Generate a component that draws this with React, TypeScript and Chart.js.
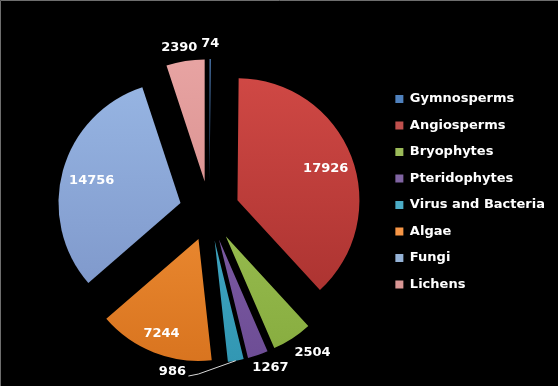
import React, { useEffect, useRef } from 'react';
import { Chart, registerables } from 'chart.js';

Chart.register(...registerables);

// ---- data ----
const categories = ['Gymnosperms', 'Angiosperms', 'Bryophytes', 'Pteridophytes', 'Virus and Bacteria', 'Algae', 'Fungi', 'Lichens'];
const speciesCounts = [74, 17926, 2504, 1267, 986, 7244, 14756, 2390];

// ---- styles ----
const baseColors = ['#4F81BD', '#C0504D', '#9BBB59', '#8064A2', '#4BACC6', '#F79646', '#95B3D7', '#D99694'];
const topColors = ['#5B8FD0', '#D44B47', '#A6CB5E', '#8A68B0', '#4DB3CE', '#FB9C40', '#9AB9E6', '#EAA7A6'];
const bottomColors = ['#2E5A8E', '#A32E2C', '#84A93C', '#6A4A92', '#2F94B0', '#D5701C', '#7890C4', '#CF8381'];

const EXPLODE = 30;
const PIE_RADIUS = 122;
// label placement relative to each exploded slice (fraction of radius, angle shift in degrees)
const labelRadiusFactor = [1.123, 0.77, 1.19, 1.135, 1.132, 0.83, 0.75, 1.12];
const labelAngleShiftDeg = [0, 1, -3.7, -3.2, 27.8, 0, -1.4, -1.6];
const LEADER_INDEX = 4;

const framePlugin = {
  id: 'frame',
  beforeDraw(chart: any) {
    const { ctx, width, height } = chart;
    ctx.save();
    ctx.fillStyle = '#000';
    ctx.fillRect(0, 0, width, height);
    ctx.strokeStyle = '#6e6e6e';
    ctx.lineWidth = 1;
    ctx.beginPath();
    ctx.moveTo(0.5, height);
    ctx.lineTo(0.5, 0.5);
    ctx.lineTo(width, 0.5);
    ctx.stroke();
    ctx.restore();
  },
};

const explodePlugin = {
  id: 'explode',
  beforeDatasetDraw(chart: any, args: any) {
    const ctx = chart.ctx;
    args.meta.data.forEach((arc: any) => {
      const { startAngle, endAngle } = arc.getProps(['startAngle', 'endAngle'], true);
      const mid = (startAngle + endAngle) / 2;
      ctx.save();
      ctx.translate(Math.cos(mid) * EXPLODE, Math.sin(mid) * EXPLODE);
      arc.draw(ctx);
      ctx.restore();
    });
    return false;
  },
};

const labelPlugin = {
  id: 'sliceLabels',
  afterDatasetsDraw(chart: any) {
    const ctx = chart.ctx;
    const meta = chart.getDatasetMeta(0);
    const values = chart.data.datasets[0].data;
    ctx.save();
    ctx.font = 'bold 13px "DejaVu Sans"';
    ctx.textAlign = 'center';
    ctx.textBaseline = 'middle';
    meta.data.forEach((arc: any, i: number) => {
      const { x, y, startAngle, endAngle, outerRadius } = arc.getProps(['x', 'y', 'startAngle', 'endAngle', 'outerRadius'], true);
      const mid = (startAngle + endAngle) / 2;
      const ax = x + Math.cos(mid) * EXPLODE;
      const ay = y + Math.sin(mid) * EXPLODE;
      const ang = mid + (labelAngleShiftDeg[i] * Math.PI) / 180;
      const d = outerRadius * labelRadiusFactor[i];
      const lx = ax + Math.cos(ang) * d;
      const ly = ay + Math.sin(ang) * d;
      if (i === LEADER_INDEX) {
        const ox = ax + Math.cos(mid) * outerRadius;
        const oy = ay + Math.sin(mid) * outerRadius;
        ctx.strokeStyle = '#d8d8d8';
        ctx.lineWidth = 1;
        ctx.beginPath();
        ctx.moveTo(ox, oy);
        ctx.lineTo(lx + 26, ly + 2);
        ctx.lineTo(lx + 16, ly + 4);
        ctx.stroke();
      }
      ctx.fillStyle = '#ffffff';
      ctx.fillText(String(values[i]), lx, ly);
    });
    ctx.restore();
  },
};

function sliceFill(c: any) {
  const i = c.dataIndex;
  const chart = c.chart;
  const area = chart.chartArea;
  if (!area || i === undefined) return baseColors[i ?? 0];
  const cy = (area.top + area.bottom) / 2;
  const g = chart.ctx.createLinearGradient(0, cy - PIE_RADIUS - EXPLODE, 0, cy + PIE_RADIUS + EXPLODE);
  g.addColorStop(0, topColors[i]);
  g.addColorStop(1, bottomColors[i]);
  return g;
}

export default function App() {
  const ref = useRef<HTMLCanvasElement>(null);
  useEffect(() => {
    const chart = new Chart(ref.current as HTMLCanvasElement, {
      type: 'pie',
      data: {
        labels: categories,
        datasets: [
          {
            data: speciesCounts,
            backgroundColor: sliceFill as any,
            borderWidth: 0,
            radius: PIE_RADIUS,
            clip: false as any,
          } as any,
        ],
      },
      options: {
        responsive: false,
        animation: false,
        layout: { padding: { left: 37, right: 3, top: 36, bottom: 0 } },
        plugins: {
          tooltip: { enabled: false },
          legend: {
            position: 'right',
            align: 'start',
            title: { display: true, text: ' ', font: { size: 10 }, padding: { top: 0, bottom: 31 } },
            labels: {
              boxWidth: 8,
              boxHeight: 8,
              padding: 13.5,
              color: '#ffffff',
              font: { family: '"DejaVu Sans"', weight: 'bold', size: 13 },
              generateLabels: () =>
                categories.map((text, i) => ({
                  text,
                  fillStyle: baseColors[i],
                  strokeStyle: baseColors[i],
                  lineWidth: 0,
                  hidden: false,
                  index: i,
                  fontColor: '#ffffff',
                })),
            },
          },
        },
      } as any,
      plugins: [framePlugin, explodePlugin, labelPlugin],
    });
    return () => chart.destroy();
  }, []);
  return (
    <div style={{ position: 'absolute', left: 0, top: 0, width: 558, height: 386, background: '#000' }}>
      <canvas ref={ref} width={558} height={386} style={{ display: 'block' }} />
    </div>
  );
}
